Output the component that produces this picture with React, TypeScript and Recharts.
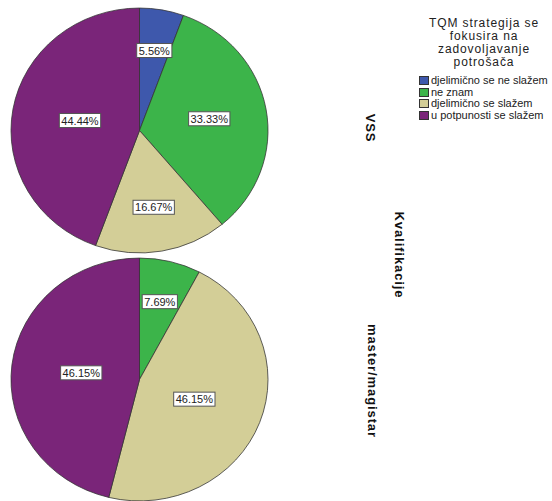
import React from "react";
import { PieChart, Pie, Cell } from "recharts";

// answer categories and their fills
const categories = [
  "djelimično se ne slažem",
  "ne znam",
  "djelimično se slažem",
  "u potpunosti se slažem",
];
const colors = ["#3e58ac", "#3cb44a", "#d3ce97", "#7a2579"];

// response counts per qualification group
const vssCounts = [1, 6, 3, 8];
const masterCounts = [0, 1, 6, 6];

const groupLabels = ["VSS", "master/magistar"];
const axisTitle = "Kvalifikacije";
const legendTitle = ["TQM strategija se", "fokusira na", "zadovoljavanje", "potrošača"];

const FONT = "'Liberation Sans', Arial, sans-serif";
const RAD = Math.PI / 180;

const toRows = (counts: number[]) =>
  counts
    .map((value, i) => ({ name: categories[i], value, color: colors[i] }))
    .filter((d) => d.value > 0);

// rough Arial advance widths at 11px for the percentage labels
const charW = (c: string) => (c === "." ? 3.06 : c === "%" ? 9.78 : 6.12);

// label sits on the slice centroid; counter the vertical squash so text stays upright
const makeLabel = (squash: number) => (props: any) => {
  const { cx, cy, outerRadius, startAngle, endAngle, midAngle, percent } = props;
  const half = (Math.abs(endAngle - startAngle) / 2) * RAD;
  const d = half >= Math.PI ? 0 : (2 * outerRadius * Math.sin(half)) / (3 * half);
  const x = cx + d * Math.cos(-midAngle * RAD);
  const y = cy + d * Math.sin(-midAngle * RAD);
  const text = `${(percent * 100).toFixed(2)}%`;
  const w = text.split("").reduce((s, c) => s + charW(c), 0) + 4;
  const h = 14;
  return (
    <g transform={`translate(${x} ${y}) scale(1 ${1 / squash})`}>
      <rect x={-w / 2} y={-h / 2} width={w} height={h} fill="#fff" stroke="#555" strokeWidth={1} />
      <text
        x={0}
        y={4}
        textAnchor="middle"
        fontSize={11}
        fontFamily={FONT}
        fill="#222"
      >
        {text}
      </text>
    </g>
  );
};

function GroupPie({
  counts,
  top,
  cy,
  squash,
}: {
  counts: number[];
  top: number;
  cy: number;
  squash: number;
}) {
  const rows = toRows(counts);
  return (
    <div
      style={{
        position: "absolute",
        left: 0,
        top,
        width: 280,
        height: 272,
        transform: `scaleY(${squash})`,
        transformOrigin: `139.5px ${cy}px`,
      }}
    >
      <PieChart width={280} height={272} margin={{ top: 0, right: 0, bottom: 0, left: 0 }}>
        <Pie
          data={rows}
          dataKey="value"
          nameKey="name"
          cx={139.5}
          cy={cy}
          outerRadius={128.5}
          startAngle={90}
          endAngle={-270}
          stroke="#333"
          strokeWidth={0.8}
          label={makeLabel(squash)}
          labelLine={false}
          isAnimationActive={false}
        >
          {rows.map((r) => (
            <Cell key={r.name} fill={r.color} />
          ))}
        </Pie>
      </PieChart>
    </div>
  );
}

function Rotated({ x, y, text }: { x: number; y: number; text: string }) {
  return (
    <div
      style={{
        position: "absolute",
        left: x,
        top: y,
        transform: "translate(-50%, -50%) rotate(90deg)",
        whiteSpace: "nowrap",
        fontFamily: FONT,
        fontWeight: "bold",
        fontSize: 13,
        letterSpacing: 0.9,
        color: "#111",
        lineHeight: "14px",
      }}
    >
      {text}
    </div>
  );
}

export default function App() {
  return (
    <div
      style={{
        position: "absolute",
        left: 0,
        top: 0,
        width: 552,
        height: 501,
        overflow: "hidden",
        background: "#fff",
        fontFamily: FONT,
      }}
    >
      <GroupPie counts={vssCounts} top={0} cy={130.5} squash={0.953} />
      <GroupPie counts={masterCounts} top={250} cy={129.5} squash={0.945} />

      <Rotated x={370} y={128} text={groupLabels[0]} />
      <Rotated x={399} y={255} text={axisTitle} />
      <Rotated x={372} y={381} text={groupLabels[1]} />

      <div
        style={{
          position: "absolute",
          left: 420,
          top: 17,
          width: 128,
          textAlign: "center",
          fontSize: 12,
          lineHeight: "13px",
          letterSpacing: 0.9,
          color: "#222",
        }}
      >
        {legendTitle.map((l) => (
          <div key={l}>{l}</div>
        ))}
      </div>

      {categories.map((c, i) => (
        <div
          key={c}
          style={{
            position: "absolute",
            left: 419,
            top: 75 + i * 11.5,
            height: 11,
            display: "flex",
            alignItems: "center",
            whiteSpace: "nowrap",
          }}
        >
          <div
            style={{
              width: 10,
              height: 9,
              boxSizing: "border-box",
              border: "1px solid #333",
              background: colors[i],
              marginRight: 2,
            }}
          />
          <span style={{ fontSize: 11, color: "#222", lineHeight: "11px" }}>{c}</span>
        </div>
      ))}
    </div>
  );
}
